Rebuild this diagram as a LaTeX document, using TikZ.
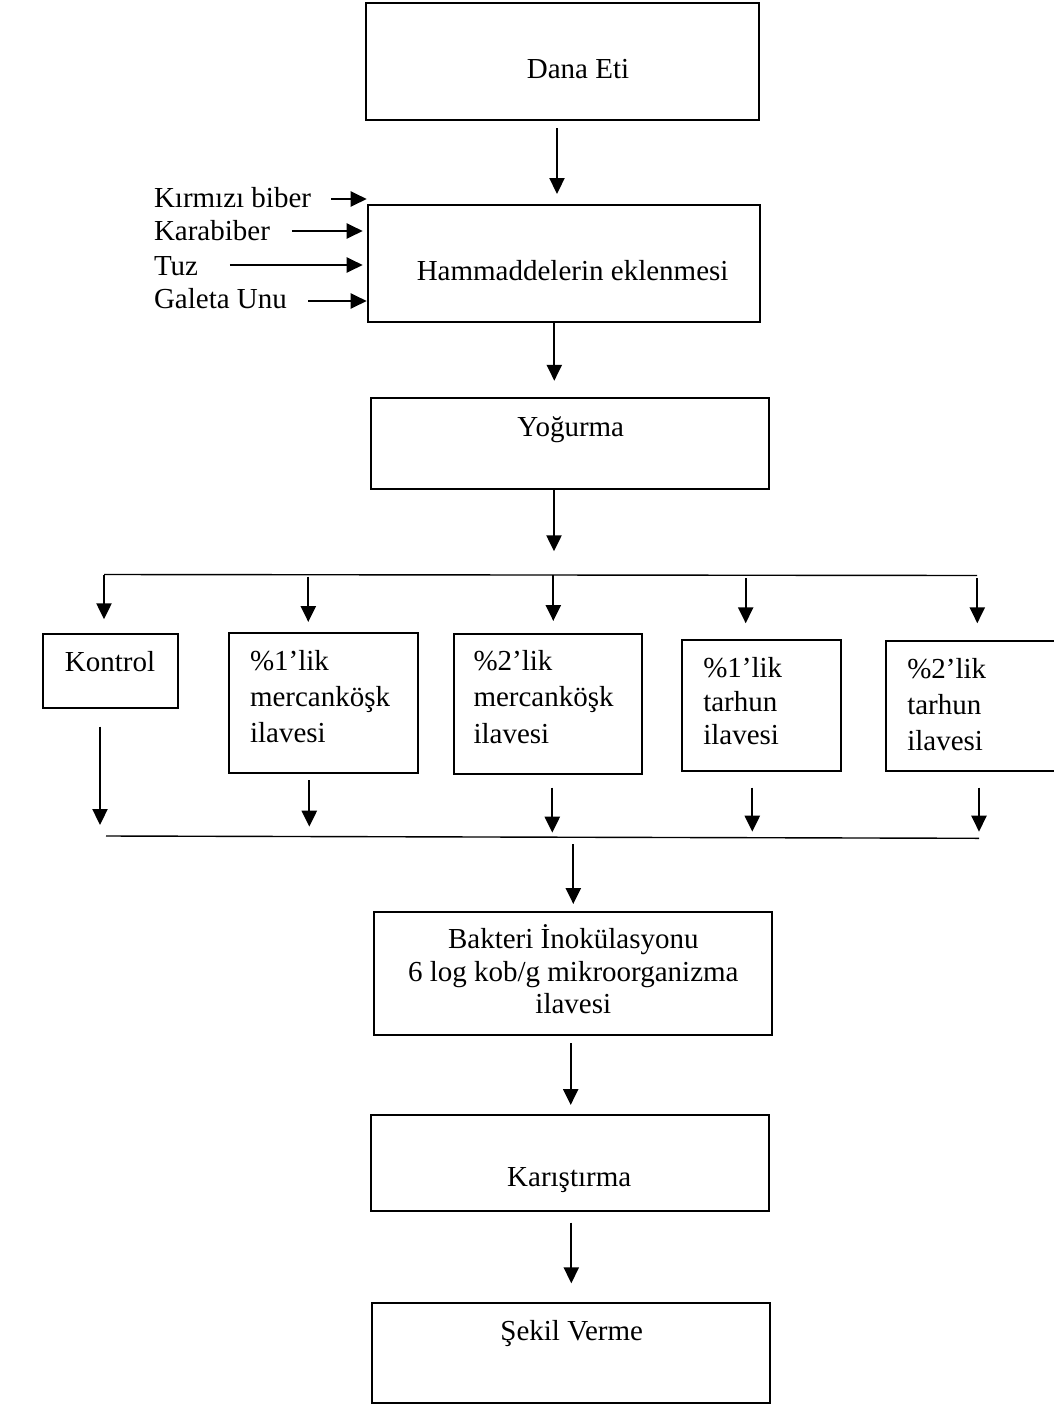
\documentclass[tikz,border=0pt]{standalone}
\usepackage{fontspec}
\setmainfont{Liberation Serif}
\usetikzlibrary{arrows.meta,calc}
\newcommand{\fs}{\fontsize{29}{34}\selectfont}
\newcommand{\mlines}[3]{{\fontsize{29}{#1}\selectfont\begin{tabular}[t]{@{}#2@{}}#3\end{tabular}}}
\begin{document}
\begin{tikzpicture}[x=1pt,y=-1pt,
  box/.style={draw, line width=2pt, inner sep=0pt, outer sep=0pt},
  arr/.style={line width=2.3pt, -{Triangle[length=16pt,width=15pt]}},
  bar/.style={line width=1.4pt},
  txt/.style={inner sep=0pt, outer sep=0pt, font=\fs}]
\useasboundingbox (0,0) rectangle (1054,1411);
\fill[white] (0,0) rectangle (1054,1411);

% boxes
\node[box, minimum width=393pt, minimum height=117pt] (dana) at (562.5,61.5) {};
\node[box, minimum width=392.4pt, minimum height=117pt] (ham) at (564.2,263.5) {};
\node[box, minimum width=398pt, minimum height=91pt] (yog) at (570,443.8) {};
\node[box, minimum width=134.4pt, minimum height=74pt] (kon) at (110.5,671.3) {};
\node[box, minimum width=189pt, minimum height=140.6pt] (m1) at (323.8,703) {};
\node[box, minimum width=188.3pt, minimum height=140pt] (m2) at (548.2,704.3) {};
\node[box, minimum width=158.4pt, minimum height=131pt] (t1) at (761.5,705.5) {};
\node[box, minimum width=175.7pt, minimum height=130pt] (t2) at (974.15,706) {};
\node[box, minimum width=398pt, minimum height=123.6pt] (bak) at (573.3,973.5) {};
\node[box, minimum width=398pt, minimum height=96pt] (kar) at (570,1163) {};
\node[box, minimum width=397.7pt, minimum height=99.7pt] (sek) at (571.2,1353.2) {};

% texts
\node[txt, anchor=base] (tdana) at (578,78) {Dana Eti};
\node[txt, anchor=base] (tham) at (572.6,280) {Hammaddelerin eklenmesi};
\node[txt, anchor=base] (tyog) at (570.8,436.7) {Yoğurma};
\node[txt, anchor=base] (tkon) at (110,671.7) {Kontrol};
\node[txt, anchor=base west] (tm1) at (250,670) {\mlines{36}{l}{\%1’lik\\mercanköşk\\ilavesi}};
\node[txt, anchor=base west] (tm2) at (473.5,670) {\mlines{36.6}{l}{\%2’lik\\mercanköşk\\ilavesi}};
\node[txt, anchor=base west] (tt1) at (703.3,677.3) {\mlines{33.8}{l}{\%1’lik\\tarhun\\ilavesi}};
\node[txt, anchor=base west] (tt2) at (907.3,678.3) {\mlines{36.2}{l}{\%2’lik\\tarhun\\ilavesi}};
\node[txt, anchor=base] (tbak) at (573.3,948.3) {\mlines{32.8}{c}{Bakteri İnokülasyonu\\6 log kob/g mikroorganizma\\ilavesi}};
\node[txt, anchor=base] (tkar) at (569.2,1186.7) {Karıştırma};
\node[txt, anchor=base] (tsek) at (571.7,1340) {Şekil Verme};

\node[txt, anchor=base west] (kir) at (154,207) {Kırmızı biber};
\node[txt, anchor=base west] (kara) at (154,240.7) {Karabiber};
\node[txt, anchor=base west] (tuz) at (154,275) {Tuz};
\node[txt, anchor=base west] (gal) at (154,308.3) {Galeta Unu};

% input arrows
\draw[arr] ($(kir.base east)+(20,-8)$) -- ($(ham.west)+(-1.3,-64.5)$);
\draw[arr] ($(kara.base east)+(22,-9.7)$) -- ($(ham.west)+(-5.3,-32.5)$);
\draw[arr] ($(tuz.base east)+(31.7,-10)$) -- ($(ham.west)+(-5.3,1.5)$);
\draw[arr] ($(gal.base east)+(21.3,-7.3)$) -- ($(ham.west)+(-1.3,37.5)$);

% main flow
\draw[arr] ($(dana.south)+(-5.5,8)$) -- ($(ham.north)+(-7.2,-11)$);
\draw[arr] ($(ham.south)+(-9.9,0)$) -- ($(yog.north)+(-15.7,-17.5)$);
\draw[arr] ($(yog.south)+(-16,0)$) -- ++(0,62);

% split
\coordinate (bl) at (104,574.5);
\coordinate (br) at (977,575.5);
\draw[bar] (bl) -- (br);
\draw[arr] (bl) -- ($(kon.north)+(-6.5,-15)$);
\draw[arr] ($(m1.north)+(-15.5,-56)$) -- ($(m1.north)+(-15.5,-10.7)$);
\draw[arr] ($(m2.north)+(5.1,-59.3)$) -- ($(m2.north)+(5.1,-13.3)$);
\draw[arr] ($(t1.north)+(-15.8,-62)$) -- ($(t1.north)+(-15.8,-16.7)$);
\draw[arr] ($(t2.north)+(3.15,-63)$) -- ($(t2.north)+(3.15,-17.7)$);

% merge
\draw[arr] ($(kon.south)+(-10.5,18.4)$) -- ($(kon.south)+(-10.5,116.7)$);
\draw[arr] ($(m1.south)+(-14.5,6.7)$) -- ($(m1.south)+(-14.5,53.4)$);
\draw[arr] ($(m2.south)+(4.1,13.4)$) -- ($(m2.south)+(4.1,58.4)$);
\draw[arr] ($(t1.south)+(-9.2,16.7)$) -- ($(t1.south)+(-9.2,60.7)$);
\draw[arr] ($(t2.south)+(4.85,16.7)$) -- ($(t2.south)+(4.85,60.7)$);
\coordinate (ml) at (106,836);
\coordinate (mr) at (979,838.3);
\draw[bar] (ml) -- (mr);

% lower flow
\draw[arr] ($(bak.north)+(0,-67.7)$) -- ($(bak.north)+(0,-7.7)$);
\draw[arr] ($(bak.south)+(-2.6,8)$) -- ($(kar.north)+(0.7,-10)$);
\draw[arr] ($(kar.south)+(1.3,11.7)$) -- ($(sek.north)+(0.1,-20)$);
\end{tikzpicture}
\end{document}
